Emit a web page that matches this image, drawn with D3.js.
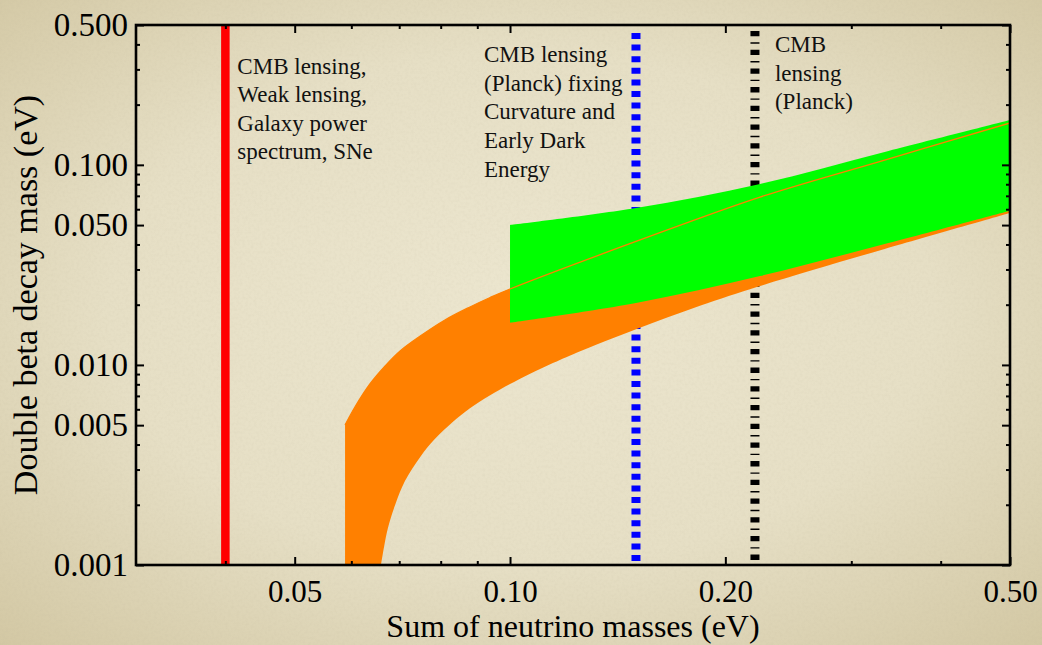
<!DOCTYPE html>
<html>
<head>
<meta charset="utf-8">
<script src="https://cdn.jsdelivr.net/npm/d3@7"></script>
<style>
  html, body { margin: 0; padding: 0; background: #e2dabd; }
  svg { display: block; }
</style>
</head>
<body>
<svg id="chart" width="1042" height="645"></svg>
<script>
// Axis ticks
const xTickValues = [0.05, 0.10, 0.20, 0.50];
const xMinorTicks = [0.04, 0.06, 0.07, 0.08, 0.09, 0.3, 0.4];
const yTickValues = [0.001, 0.005, 0.010, 0.050, 0.100, 0.500];
const yMinorTicks = [0.002, 0.003, 0.004, 0.006, 0.007, 0.008, 0.009,
                     0.02, 0.03, 0.04, 0.06, 0.07, 0.08, 0.09, 0.2, 0.3, 0.4];

// Orange band: allowed double beta decay mass vs. sum of masses
const orangeUpperSum  = [0.0588, 0.0607, 0.0637, 0.0669, 0.0702, 0.0749, 0.0811, 0.0879, 0.0938, 0.100, 0.150, 0.2236, 0.334, 0.500];
const orangeUpperMass = [0.00501, 0.00616, 0.00803, 0.00988, 0.01174, 0.01394, 0.01677, 0.01948, 0.02173, 0.02396, 0.0414, 0.069, 0.1057, 0.1619];
const orangeLowerSum  = [0.0660, 0.0667, 0.0675, 0.0691, 0.0713, 0.0749, 0.0785, 0.0833, 0.0879, 0.0938, 0.1033, 0.1138, 0.1241, 0.150, 0.1843, 0.2236, 0.334, 0.500];
const orangeLowerMass = [0.001, 0.001244, 0.00153, 0.00200, 0.00263, 0.00347, 0.00426, 0.00522, 0.00608, 0.00706, 0.00853, 0.01007, 0.01155, 0.01509, 0.01975, 0.0248, 0.0380, 0.0575];

// Green band
const greenSum = [0.100, 0.150, 0.2236, 0.334, 0.500];
const greenUpperMass = [0.050, 0.0608, 0.0802, 0.116, 0.1675];
const greenLowerMass = [0.01626, 0.0204, 0.0278, 0.0402, 0.059];

// Cosmological limits on the sum of neutrino masses
const redLimit = 0.04;
const blueLimit = 0.15;
const blackLimit = 0.22;

const redLabel = ["CMB lensing,", "Weak lensing,", "Galaxy power", "spectrum, SNe"];
const blueLabel = ["CMB lensing", "(Planck) fixing", "Curvature and", "Early Dark", "Energy"];
const blackLabel = ["CMB", "lensing", "(Planck)"];

const W = 1042, H = 645;
const plot = { left: 136, right: 1010, top: 25, bottom: 565 };
const serif = "'Liberation Serif', 'Times New Roman', Times, serif";

const svg = d3.select("#chart");
const defs = svg.append("defs");

// paper-like background
const bg = defs.append("radialGradient").attr("id", "paper")
  .attr("cx", "50%").attr("cy", "48%").attr("r", "72%");
bg.append("stop").attr("offset", "0%").attr("stop-color", "#ece6cf");
bg.append("stop").attr("offset", "55%").attr("stop-color", "#e6dfc5");
bg.append("stop").attr("offset", "100%").attr("stop-color", "#d3c8a4");

const grain = defs.append("filter").attr("id", "grain")
  .attr("x", 0).attr("y", 0).attr("width", "100%").attr("height", "100%");
grain.append("feTurbulence").attr("type", "fractalNoise")
  .attr("baseFrequency", "0.35 0.35").attr("numOctaves", 2).attr("seed", 3);
grain.append("feColorMatrix").attr("type", "matrix")
  .attr("values", "0 0 0 0 0.45  0 0 0 0 0.40  0 0 0 0 0.28  0 0 0 0.9 -0.35");

svg.append("rect").attr("width", W).attr("height", H).attr("fill", "url(#paper)");
svg.append("rect").attr("width", W).attr("height", H)
  .attr("filter", "url(#grain)").attr("opacity", 0.18);

defs.append("clipPath").attr("id", "plotClip")
  .append("rect")
  .attr("x", plot.left).attr("y", plot.top)
  .attr("width", plot.right - plot.left).attr("height", plot.bottom - plot.top);

const x = d3.scaleLog().domain([0.03, 0.5]).range([plot.left, plot.right]);
const y = d3.scaleLog().domain([0.001, 0.5]).range([plot.bottom, plot.top]);

const g = svg.append("g").attr("clip-path", "url(#plotClip)");

// vertical limit lines (drawn beneath the bands)
g.append("line")
  .attr("x1", x(redLimit)).attr("x2", x(redLimit))
  .attr("y1", y(0.5)).attr("y2", y(0.001))
  .attr("stroke", "#ff0000").attr("stroke-width", 8.5);

g.append("line")
  .attr("x1", x(blueLimit)).attr("x2", x(blueLimit))
  .attr("y1", y(0.5) + 8).attr("y2", y(0.001))
  .attr("stroke", "#0000ff").attr("stroke-width", 9)
  .attr("stroke-dasharray", "6 5.6");

g.append("line")
  .attr("x1", x(blackLimit)).attr("x2", x(blackLimit))
  .attr("y1", y(0.5) + 6).attr("y2", y(0.001))
  .attr("stroke", "#000000").attr("stroke-width", 9)
  .attr("stroke-dasharray", "5.3 6 1.4 6");

const curve = d3.line().curve(d3.curveCatmullRom.alpha(0.5));
const pts = (xs, ys) => xs.map((s, i) => [x(s), y(ys[i])]);

// orange band
const oUp = pts(orangeUpperSum, orangeUpperMass);
const oLo = pts(orangeLowerSum, orangeLowerMass).reverse();
g.append("path")
  .attr("d", curve(oUp) + curve(oLo).replace(/^M/, "L") +
        `L${x(orangeUpperSum[0])},${y(0.001)}Z`)
  .attr("fill", "#ff8000");

// green band
const gUp = pts(greenSum, greenUpperMass);
const gLo = pts(greenSum, greenLowerMass).reverse();
g.append("path")
  .attr("d", curve(gUp) + curve(gLo).replace(/^M/, "L") + "Z")
  .attr("fill", "#00ff00");

// upper edge of orange band shown through the green band
g.append("path")
  .attr("d", curve(oUp))
  .attr("fill", "none").attr("stroke", "#ff8000").attr("stroke-width", 1.3);

// frame and ticks
const axes = svg.append("g");

function styleAxis(size) {
  return sel => {
    sel.select(".domain").remove();
    sel.attr("font-family", null).attr("font-size", null);
    sel.selectAll(".tick line").attr("stroke", "#000").attr("stroke-width", 2);
    sel.selectAll("text").attr("fill", "#000")
      .style("font-family", serif).style("font-size", size + "px");
  };
}

axes.append("g").attr("transform", `translate(0,${plot.bottom})`)
  .call(d3.axisBottom(x).tickValues(xTickValues).tickSize(-8).tickPadding(15).tickFormat(d3.format(".2f")))
  .call(styleAxis(31));
axes.append("g").attr("transform", `translate(0,${plot.bottom})`)
  .call(d3.axisBottom(x).tickValues(xMinorTicks).tickSize(-4).tickFormat(""))
  .call(styleAxis(31));
axes.append("g").attr("transform", `translate(0,${plot.top})`)
  .call(d3.axisTop(x).tickValues(xTickValues).tickSize(-8).tickFormat(""))
  .call(styleAxis(31));
axes.append("g").attr("transform", `translate(0,${plot.top})`)
  .call(d3.axisTop(x).tickValues(xMinorTicks).tickSize(-4).tickFormat(""))
  .call(styleAxis(31));

axes.append("g").attr("transform", `translate(${plot.left},0)`)
  .call(d3.axisLeft(y).tickValues(yTickValues).tickSize(-8).tickPadding(8).tickFormat(d3.format(".3f")))
  .call(styleAxis(33));
axes.append("g").attr("transform", `translate(${plot.left},0)`)
  .call(d3.axisLeft(y).tickValues(yMinorTicks).tickSize(-4).tickFormat(""))
  .call(styleAxis(33));
axes.append("g").attr("transform", `translate(${plot.right},0)`)
  .call(d3.axisRight(y).tickValues(yTickValues).tickSize(-8).tickFormat(""))
  .call(styleAxis(33));
axes.append("g").attr("transform", `translate(${plot.right},0)`)
  .call(d3.axisRight(y).tickValues(yMinorTicks).tickSize(-4).tickFormat(""))
  .call(styleAxis(33));

svg.append("rect")
  .attr("x", plot.left).attr("y", plot.top)
  .attr("width", plot.right - plot.left).attr("height", plot.bottom - plot.top)
  .attr("fill", "none").attr("stroke", "#000").attr("stroke-width", 2.6);

// axis titles
svg.append("text")
  .attr("x", (plot.left + plot.right) / 2).attr("y", 637)
  .attr("text-anchor", "middle")
  .style("font-family", serif).style("font-size", "32px").attr("fill", "#000")
  .text("Sum of neutrino masses (eV)");

svg.append("text")
  .attr("transform", `translate(37,${(plot.top + plot.bottom) / 2}) rotate(-90)`)
  .attr("text-anchor", "middle")
  .style("font-family", serif).style("font-size", "34px").attr("fill", "#000")
  .text("Double beta decay mass (eV)");

// annotations
function annotate(lines, x0, y0, step) {
  const t = svg.append("text")
    .style("font-family", serif).style("font-size", "23px").attr("fill", "#111");
  lines.forEach((s, i) => {
    t.append("tspan").attr("x", x0).attr("y", y0 + i * step)
      .style("font-family", serif).text(s);
  });
}
annotate(redLabel, x(redLimit) + 12, 74, 28.3);
annotate(blueLabel, 484, 62, 28.7);
annotate(blackLabel, x(blackLimit) + 20, 52, 28.7);
</script>
</body>
</html>
